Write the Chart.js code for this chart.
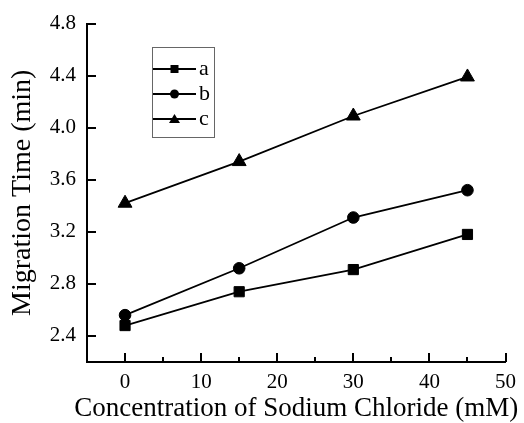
<!DOCTYPE html>
<html>
<head>
<meta charset="utf-8">
<script src="https://cdn.jsdelivr.net/npm/chart.js@4/dist/chart.umd.min.js"></script>
<style>
  html, body { margin: 0; padding: 0; background: #fff; }
</style>
</head>
<body>
<canvas id="chart" width="524" height="423"></canvas>
<script>
// Data
const concentrations = [0, 15, 30, 45];          // mM NaCl
const seriesA = [2.48, 2.74, 2.91, 3.18];
const seriesB = [2.56, 2.92, 3.31, 3.52];
const seriesC = [3.42, 3.74, 4.09, 4.39];
const seriesLabels = ['a', 'b', 'c'];
const seriesMarkers = ['rect', 'circle', 'triangle'];

// Axis ticks
const xTicks = [0, 10, 20, 30, 40, 50];
const xMinorTicks = [5, 15, 25, 35, 45];
const yTicks = [2.4, 2.8, 3.2, 3.6, 4.0, 4.4, 4.8];

const xTitle = 'Concentration of Sodium Chloride (mM)';
const yTitle = 'Migration Time (min)';

const serif = "'Liberation Serif', 'Times New Roman', serif";

function toPoints(values) {
    return values.map((v, i) => ({ x: concentrations[i], y: v }));
}

// Ticks in the original point into the plot area, so draw them ourselves.
// The x title is wider than the plot area, so it is drawn here too
// (Chart.js would squeeze it to the axis width).
const innerTicks = {
    id: 'innerTicks',
    afterDraw(chart) {
        const { ctx } = chart;
        const x = chart.scales.x;
        const y = chart.scales.y;
        ctx.save();
        ctx.strokeStyle = '#000';
        ctx.lineWidth = 2;
        ctx.beginPath();
        xTicks.forEach(v => {
            const px = Math.round(x.getPixelForValue(v));
            ctx.moveTo(px, x.top);
            ctx.lineTo(px, x.top - 9);
        });
        xMinorTicks.forEach(v => {
            const px = Math.round(x.getPixelForValue(v));
            ctx.moveTo(px, x.top);
            ctx.lineTo(px, x.top - 5);
        });
        yTicks.forEach(v => {
            const py = Math.round(y.getPixelForValue(v));
            ctx.moveTo(y.right, py);
            ctx.lineTo(y.right + 9, py);
        });
        ctx.stroke();

        ctx.fillStyle = '#000';
        ctx.font = '27px ' + serif;
        ctx.textAlign = 'center';
        ctx.textBaseline = 'middle';
        ctx.fillText(xTitle, (x.left + x.right) / 2, x.bottom - 14);
        ctx.restore();
    }
};

// Boxed legend with line-marker-line samples
const boxLegend = {
    id: 'boxLegend',
    afterDraw(chart) {
        const { ctx } = chart;
        const box = { left: 152, top: 47, right: 214, bottom: 137 };
        const rows = [69, 94, 119];
        ctx.save();
        ctx.strokeStyle = '#666';
        ctx.lineWidth = 1;
        ctx.strokeRect(box.left + 0.5, box.top + 0.5, box.right - box.left, box.bottom - box.top);

        chart.data.datasets.forEach((ds, i) => {
            const yy = rows[i];
            ctx.strokeStyle = '#000';
            ctx.lineWidth = 1.8;
            ctx.beginPath();
            ctx.moveTo(153, yy);
            ctx.lineTo(196, yy);
            ctx.stroke();

            const cx = 174.5;
            ctx.fillStyle = '#000';
            ctx.beginPath();
            if (ds.pointStyle === 'rect') {
                ctx.rect(cx - 4, yy - 4, 8, 8);
            } else if (ds.pointStyle === 'circle') {
                ctx.arc(cx, yy, 4.5, 0, Math.PI * 2);
            } else {
                ctx.moveTo(cx, yy - 5);
                ctx.lineTo(cx + 5.5, yy + 4);
                ctx.lineTo(cx - 5.5, yy + 4);
                ctx.closePath();
            }
            ctx.fill();

            ctx.font = '22px ' + serif;
            ctx.textAlign = 'left';
            ctx.textBaseline = 'middle';
            ctx.fillText(ds.label, 199, yy);
        });
        ctx.restore();
    }
};

function makeDataset(i, values, radius) {
    return {
        label: seriesLabels[i],
        data: toPoints(values),
        borderColor: '#000',
        backgroundColor: '#000',
        borderWidth: 1.8,
        pointStyle: seriesMarkers[i],
        pointRadius: radius,
        pointBorderWidth: 1,
        pointBorderColor: '#000',
        pointBackgroundColor: '#000',
        showLine: true,
        tension: 0
    };
}

const ctx = document.getElementById('chart').getContext('2d');
new Chart(ctx, {
    type: 'scatter',
    data: {
        datasets: [
            makeDataset(0, seriesA, 7.2),
            makeDataset(1, seriesB, 5.8),
            makeDataset(2, seriesC, 8)
        ]
    },
    options: {
        responsive: false,
        animation: false,
        layout: {
            padding: { top: 21, right: 11.5, left: 0, bottom: 0 }
        },
        plugins: {
            legend: { display: false },
            tooltip: { enabled: false }
        },
        scales: {
            x: {
                type: 'linear',
                min: -5,
                max: 50,
                afterBuildTicks: scale => {
                    scale.ticks = xTicks.map(v => ({ value: v }));
                },
                afterFit: scale => { scale.height = 61; },
                grid: { display: false, drawTicks: false },
                border: { display: true, color: '#000', width: 2 },
                ticks: {
                    color: '#000',
                    padding: 8,
                    maxRotation: 0,
                    font: { family: serif, size: 21 }
                },
                title: { display: false }
            },
            y: {
                type: 'linear',
                min: 2.2,
                max: 4.8,
                afterBuildTicks: scale => {
                    scale.ticks = yTicks.map(v => ({ value: v }));
                },
                afterFit: scale => { scale.width = 87; },
                grid: { display: false, drawTicks: false },
                border: { display: true, color: '#000', width: 2 },
                ticks: {
                    color: '#000',
                    padding: 11,
                    font: { family: serif, size: 21 },
                    callback: v => Number(v).toFixed(1)
                },
                title: {
                    display: true,
                    text: yTitle,
                    color: '#000',
                    padding: { top: 6, bottom: 0 },
                    font: { family: serif, size: 28, lineHeight: 1.2 }
                }
            }
        }
    },
    plugins: [innerTicks, boxLegend]
});
</script>
</body>
</html>
